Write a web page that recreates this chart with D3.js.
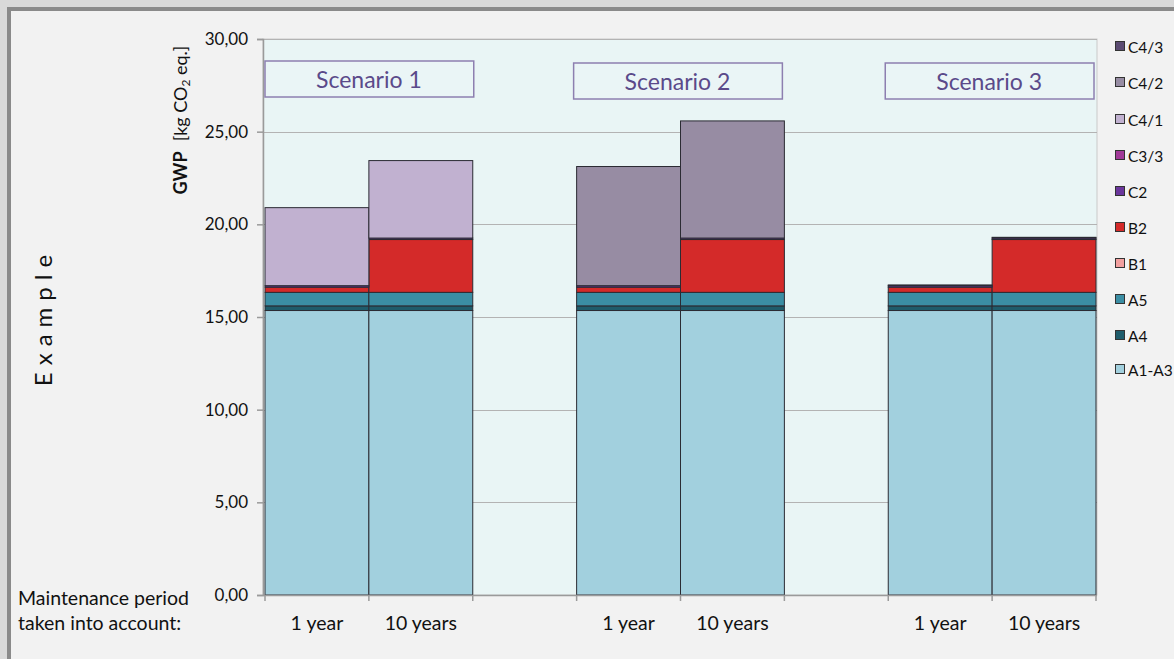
<!DOCTYPE html>
<html>
<head>
<meta charset="utf-8">
<script src="https://cdn.jsdelivr.net/npm/d3@7"></script>
<style>
  html, body { margin: 0; padding: 0; background: #d9d9d9; }
  svg { display: block; }
</style>
</head>
<body>
<svg id="chart" width="1174" height="659"></svg>
<script>
// Columns: scenario x maintenance period
const scenarios = ["Scenario 1", "Scenario 2", "Scenario 3"];
const periods = ["1 year", "10 years"];
const columns = ["S1 1y", "S1 10y", "S2 1y", "S2 10y", "S3 1y", "S3 10y"];

// Life-cycle modules, bottom to top in the stack
const modules = ["A1-A3", "A4", "A5", "B1", "B2", "C2", "C3/3", "C4/1", "C4/2", "C4/3"];
const moduleColors = ["#a2d0de", "#1f5c6b", "#3b8ea4", "#f2a09f", "#d42a29", "#6b369c", "#a23a98", "#c1b1d0", "#978ca3", "#5b4b72"];

// GWP per module for each column [kg CO2 eq.]
const valA1A3 = [15.35, 15.35, 15.35, 15.35, 15.35, 15.35];
const valA4   = [0.25, 0.25, 0.25, 0.25, 0.25, 0.25];
const valA5   = [0.73, 0.73, 0.73, 0.73, 0.73, 0.73];
const valB1   = [0.00, 0.00, 0.00, 0.00, 0.00, 0.00];
const valB2   = [0.28, 2.85, 0.28, 2.85, 0.28, 2.85];
const valC2   = [0.08, 0.08, 0.08, 0.08, 0.08, 0.08];
const valC33  = [0.00, 0.00, 0.00, 0.00, 0.04, 0.04];
const valC41  = [4.21, 4.18, 0.00, 0.00, 0.00, 0.00];
const valC42  = [0.00, 0.00, 6.43, 6.32, 0.00, 0.00];
const valC43  = [0.00, 0.00, 0.00, 0.00, 0.00, 0.00];

const yTicks = [0, 5, 10, 15, 20, 25, 30];
const yTickLabels = ["0,00", "5,00", "10,00", "15,00", "20,00", "25,00", "30,00"];

const seriesValues = [valA1A3, valA4, valA5, valB1, valB2, valC2, valC33, valC41, valC42, valC43];

// Category slots: two bars per scenario with an empty slot between scenarios
const slots = ["S1 1y", "S1 10y", "gap1", "S2 1y", "S2 10y", "gap2", "S3 1y", "S3 10y"];

const table = columns.map((c, i) => {
  const row = { col: c };
  modules.forEach((m, j) => { row[m] = seriesValues[j][i]; });
  return row;
});

const svg = d3.select("#chart");
const W = 1174, H = 659;
const font = "Lato, 'Open Sans', sans-serif";

// Frame
svg.append("rect").attr("x", 0).attr("y", 0).attr("width", W).attr("height", H).attr("fill", "#d9d9d9");
svg.append("rect").attr("x", 9).attr("y", 9).attr("width", W + 20).attr("height", H + 20)
  .attr("fill", "#f2f2f2").attr("stroke", "#8a8a8a").attr("stroke-width", 4);

const plot = { left: 263, right: 1097, top: 39, bottom: 595 };

const x = d3.scaleBand().domain(slots).range([plot.left + 2, plot.right - 1]).padding(0);
const y = d3.scaleLinear().domain([0, 30]).range([plot.bottom, plot.top]);

// Plot area
svg.append("rect")
  .attr("x", plot.left).attr("y", plot.top)
  .attr("width", plot.right - plot.left).attr("height", plot.bottom - plot.top)
  .attr("fill", "#e9f5f5").attr("stroke", "#c9c9c9").attr("stroke-width", 1);

// Gridlines
svg.append("g").selectAll("line").data(yTicks.filter(t => t > 0)).join("line")
  .attr("x1", plot.left).attr("x2", plot.right)
  .attr("y1", d => Math.round(y(d)) + 0.5).attr("y2", d => Math.round(y(d)) + 0.5)
  .attr("stroke", "#b3b3b3").attr("stroke-width", 1.2);

// Stacked bars
const stack = d3.stack().keys(modules);
const layers = stack(table);
const colorOf = d3.scaleOrdinal().domain(modules).range(moduleColors);

svg.append("g").selectAll("g").data(layers).join("g")
  .attr("fill", d => colorOf(d.key))
  .selectAll("rect").data(d => d.filter(p => p[1] - p[0] > 0)).join("rect")
  .attr("x", d => x(d.data.col))
  .attr("width", x.bandwidth())
  .attr("y", d => y(d[1]))
  .attr("height", d => y(d[0]) - y(d[1]))
  .attr("stroke", "#2b2b33").attr("stroke-width", 1);

// Y axis
const yAxis = d3.axisLeft(y).tickValues(yTicks)
  .tickFormat((d, i) => yTickLabels[i]).tickSize(6).tickPadding(9);
const gy = svg.append("g").attr("transform", `translate(${plot.left},0)`).call(yAxis);
gy.select(".domain").attr("stroke", "#9a9a9a").attr("stroke-width", 1.5);
gy.selectAll(".tick line").attr("stroke", "#9a9a9a").attr("stroke-width", 1.5);
gy.selectAll(".tick text").attr("font-family", font).attr("font-size", 17).attr("fill", "#111");

// X axis: ticks at slot boundaries, labels under the bars
const boundaries = slots.map(s => x(s)).concat([x(slots[slots.length - 1]) + x.bandwidth()]);
const gx = svg.append("g");
gx.append("line").attr("x1", plot.left).attr("x2", plot.right)
  .attr("y1", plot.bottom + 0.5).attr("y2", plot.bottom + 0.5)
  .attr("stroke", "#9a9a9a").attr("stroke-width", 1.5);
gx.selectAll("line.tk").data(boundaries).join("line").attr("class", "tk")
  .attr("x1", d => d).attr("x2", d => d)
  .attr("y1", plot.bottom).attr("y2", plot.bottom + 6)
  .attr("stroke", "#9a9a9a").attr("stroke-width", 1.5);
gx.selectAll("text").data(columns).join("text")
  .attr("x", d => x(d) + x.bandwidth() / 2)
  .attr("y", 630)
  .attr("text-anchor", "middle")
  .attr("font-family", font).attr("font-size", 19.5).attr("fill", "#111")
  .text((d, i) => periods[i % 2]);

// Scenario labels (hand-placed text boxes above each pair of bars)
const boxes = svg.append("g");
const boxShift = [0, -3, -3];
scenarios.forEach((s, i) => {
  const x0 = x(columns[i * 2]) + boxShift[i];
  const x1 = x(columns[i * 2 + 1]) + x.bandwidth() + boxShift[i];
  const by = i === 0 ? 61 : 63;
  boxes.append("rect").attr("x", x0).attr("y", by).attr("width", x1 - x0 + 1).attr("height", 36)
    .attr("fill", "#eaf5f6").attr("stroke", "#8d7fb0").attr("stroke-width", 1.5);
  boxes.append("text").attr("x", (x0 + x1) / 2).attr("y", by + 27)
    .attr("text-anchor", "middle").attr("font-family", font).attr("font-size", 23)
    .attr("fill", "#5a4a8a").text(s);
});

// Legend, top module first
const legend = svg.append("g");
const legendOrder = modules.slice().reverse();
const legendY = [47, 83, 120, 156, 192, 228, 264, 300, 336, 370];
legendOrder.forEach((m, i) => {
  legend.append("rect").attr("x", 1115.5).attr("y", legendY[i] - 5.5).attr("width", 9).attr("height", 9)
    .attr("fill", colorOf(m)).attr("stroke", "#333").attr("stroke-width", 1);
  legend.append("text").attr("x", 1128).attr("y", legendY[i] + 5.5)
    .attr("font-family", font).attr("font-size", 15.5).attr("fill", "#111").text(m);
});

// Y axis title
const yt = svg.append("text").attr("transform", "translate(187,120) rotate(-90)")
  .attr("text-anchor", "middle").attr("font-family", font).attr("font-size", 18).attr("fill", "#111");
yt.append("tspan").attr("font-weight", "bold").text("GWP");
yt.append("tspan").attr("dx", 10).text("[kg CO");
yt.append("tspan").attr("font-size", 12).attr("dy", 3).text("2");
yt.append("tspan").attr("dy", -3).text(" eq.]");

// Side label
svg.append("text").attr("transform", "translate(52,317) rotate(-90)")
  .attr("text-anchor", "middle").attr("font-family", font).attr("font-size", 24)
  .attr("letter-spacing", 7).attr("fill", "#111").text("Example");

// Row caption for the period labels
const cap = svg.append("text").attr("font-family", font).attr("font-size", 19.5).attr("fill", "#111");
cap.append("tspan").attr("x", 18).attr("y", 605).text("Maintenance period");
cap.append("tspan").attr("x", 18).attr("y", 630).text("taken into account:");
</script>
</body>
</html>
